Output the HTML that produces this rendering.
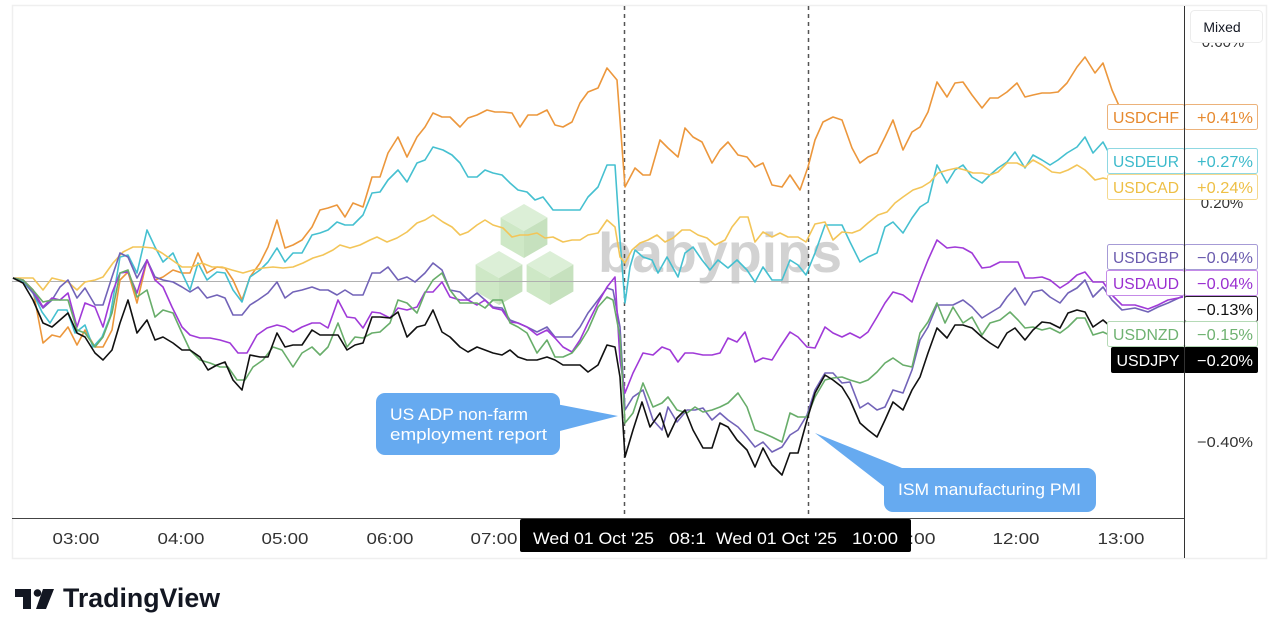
<!DOCTYPE html>
<html><head><meta charset="utf-8"><style>
html,body{margin:0;padding:0;background:#fff;}
svg{display:block;}
text{font-family:"Liberation Sans",sans-serif;}
</style></head><body>
<svg width="1280" height="637" viewBox="0 0 1280 637" xmlns="http://www.w3.org/2000/svg">
<rect x="0" y="0" width="1280" height="637" fill="#fff"/>
<rect x="12.5" y="5.5" width="1254" height="553" fill="#fff" stroke="#efefef" stroke-width="1.5"/>

<!-- watermark -->
<g opacity="0.85">
  <g>
    <polygon points="524,204 547.4,217.5 524,231 500.6,217.5" fill="#d7edd1"/>
    <polygon points="500.6,217.5 524,231 524,258 500.6,244.5" fill="#c6e4bd"/>
    <polygon points="547.4,217.5 524,231 524,258 547.4,244.5" fill="#bddcb3"/>
  </g>
  <g>
    <polygon points="499,251 522.4,264.5 499,278 475.6,264.5" fill="#d7edd1"/>
    <polygon points="475.6,264.5 499,278 499,305 475.6,291.5" fill="#c6e4bd"/>
    <polygon points="522.4,264.5 499,278 499,305 522.4,291.5" fill="#bddcb3"/>
  </g>
  <g>
    <polygon points="550,251 573.4,264.5 550,278 526.6,264.5" fill="#d7edd1"/>
    <polygon points="526.6,264.5 550,278 550,305 526.6,291.5" fill="#c6e4bd"/>
    <polygon points="573.4,264.5 550,278 550,305 573.4,291.5" fill="#bddcb3"/>
  </g>
  <text x="598" y="272" font-size="56" font-weight="bold" fill="#cbcbcb" textLength="244" lengthAdjust="spacingAndGlyphs">babypips</text>
</g>

<!-- zero line -->
<line x1="12" y1="281.5" x2="1184" y2="281.5" stroke="#b0b0b0" stroke-width="1"/>

<!-- event lines -->
<line x1="624.5" y1="6" x2="624.5" y2="518" stroke="#555" stroke-width="1.5" stroke-dasharray="4,4"/>
<line x1="808.5" y1="6" x2="808.5" y2="518" stroke="#555" stroke-width="1.5" stroke-dasharray="4,4"/>

<g fill="none" stroke-width="1.6" stroke-linejoin="round">
<!-- USDCHF -->
<polyline stroke="#ec973c" points="13,278 23,280 33,290 43,343 52,335 60,337 68,327 77,345 85,330 95,347 103,347 112,330 120,280 128,272 137,303 147,260 155,280 163,277 173,270 182,273 190,273 198,253 207,273 217,267 225,268 233,280 242,300 250,277 260,263 268,247 277,220 285,248 293,245 302,240 312,227 320,210 328,208 337,205 345,217 353,203 363,207 372,177 380,177 388,153 398,137 407,157 417,137 425,127 433,113 442,117 450,117 460,127 468,118 477,115 487,110 495,112 503,112 512,113 520,127 528,115 537,115 547,110 555,125 563,127 572,122 580,103 588,92 598,88 607,68 617,80 625,187 635,168 643,175 650,175 660,140 668,148 678,157 685,128 693,137 702,142 712,163 720,150 728,142 738,155 747,157 755,167 763,163 772,185 782,187 790,175 800,190 808,167 815,140 823,122 833,117 842,120 852,148 860,163 868,157 877,153 885,137 893,120 903,150 912,132 920,127 928,112 937,82 947,97 955,83 963,82 972,95 982,108 990,98 998,98 1007,92 1017,83 1025,97 1033,95 1042,93 1050,93 1058,92 1067,83 1077,67 1085,57 1095,73 1103,63 1112,90 1120,108"/>
<!-- USDEUR -->
<polyline stroke="#45c0d0" points="13,278 23,282 33,293 42,312 50,323 58,310 67,310 75,333 85,325 93,347 102,337 110,317 120,257 128,255 137,273 147,230 155,247 163,262 173,253 182,273 190,290 198,263 207,280 217,272 225,273 233,290 242,302 250,277 260,270 268,262 277,248 285,262 293,253 302,253 312,235 320,233 328,230 337,222 345,225 353,225 363,215 372,193 380,192 388,180 398,170 407,182 417,163 425,160 433,147 443,150 452,155 460,163 468,177 477,177 485,170 493,173 502,175 510,183 518,190 527,192 535,200 543,197 553,210 562,210 570,210 580,210 588,197 598,187 607,165 615,165 620,240 625,303 630,267 635,250 643,257 652,260 658,273 667,257 678,277 685,253 693,247 702,260 710,270 718,260 728,268 737,260 747,270 755,282 763,267 772,280 782,280 790,260 798,265 806,275 815,253 825,225 833,225 842,225 850,242 860,262 868,257 877,253 885,227 893,222 903,233 912,218 920,207 928,202 937,165 947,183 955,170 963,165 972,177 982,183 990,175 998,168 1007,162 1015,152 1025,168 1033,155 1042,160 1050,165 1058,160 1067,153 1077,147 1085,137 1093,153 1103,142 1110,155 1120,160"/>
<!-- USDCAD -->
<polyline stroke="#f3c558" points="13,278 25,278 33,278 43,290 52,278 60,280 68,282 77,290 85,282 95,280 103,277 113,263 123,252 133,247 143,247 153,248 162,253 172,260 182,267 192,267 202,263 212,267 222,267 232,270 243,273 253,270 263,268 273,267 283,268 293,267 303,263 313,258 323,255 333,250 340,245 350,248 360,245 370,240 377,237 387,242 397,238 407,232 417,223 425,220 433,215 443,222 452,227 460,235 468,232 477,225 485,220 493,225 503,228 512,237 520,235 528,235 537,233 545,238 553,237 563,242 572,240 580,240 588,235 598,233 607,220 615,227 620,257 625,263 632,250 640,243 648,240 657,235 665,242 673,238 682,230 690,230 698,235 707,238 715,245 725,240 732,227 740,217 748,217 755,242 763,232 772,237 780,233 788,237 798,237 806,242 815,224 825,222 833,240 842,232 852,233 860,230 868,223 878,215 887,212 895,203 903,197 913,190 922,187 930,182 938,173 948,170 957,168 965,170 973,173 982,173 990,175 998,172 1007,163 1017,163 1025,167 1033,160 1042,165 1052,172 1060,173 1068,170 1077,165 1085,170 1095,180 1103,178 1120,182"/>
<!-- USDGBP -->
<polyline stroke="#7263b8" points="13,278 23,280 33,293 43,308 52,300 60,287 68,280 77,298 85,288 95,305 103,305 112,277 120,253 128,257 137,278 147,260 155,277 163,280 173,282 182,287 190,292 198,287 207,298 217,295 225,298 233,315 242,315 250,305 258,300 268,293 277,282 285,298 293,292 302,290 312,287 320,290 328,290 337,295 345,290 353,295 363,295 372,273 380,273 388,267 398,280 407,277 415,282 425,273 433,263 442,270 450,290 460,292 468,300 477,293 485,300 493,307 502,308 510,320 518,323 527,327 537,332 547,327 555,337 563,337 572,337 580,327 588,313 598,300 607,288 613,290 620,327 625,410 633,397 643,390 653,420 662,430 668,407 677,422 687,410 695,410 703,408 712,420 720,413 728,420 738,427 747,437 755,447 763,442 772,452 782,447 790,435 798,430 807,415 815,390 825,373 833,373 842,383 850,382 860,408 868,403 877,410 885,407 893,390 903,393 912,370 920,340 928,327 937,305 945,305 953,305 963,300 972,307 982,318 990,313 1000,307 1007,297 1015,288 1025,305 1033,292 1042,290 1050,297 1060,303 1068,293 1077,288 1085,280 1093,297 1103,287 1112,300 1122,310 1135,308 1148,312 1158,307 1168,303 1183,296"/>
<!-- USDAUD -->
<polyline stroke="#a03ad8" points="13,278 23,280 33,290 43,307 52,298 60,300 68,293 77,327 85,303 95,307 103,327 112,293 120,273 128,272 137,293 147,260 155,280 163,287 172,307 182,327 190,335 200,338 210,338 220,340 230,343 238,353 247,353 257,335 267,328 277,325 285,327 293,332 302,327 312,323 320,323 328,328 338,300 347,317 355,318 363,328 372,312 380,313 390,318 398,308 407,310 417,307 425,292 433,292 442,282 450,297 460,300 468,300 477,305 485,300 493,308 502,310 510,322 518,323 527,327 537,335 547,330 555,338 563,347 572,352 580,340 588,323 598,303 607,287 615,277 620,360 625,393 633,373 643,353 653,355 662,347 670,350 678,362 685,353 693,353 703,355 712,355 720,353 728,338 737,342 745,332 755,362 763,358 772,360 780,347 790,332 798,337 807,347 815,348 825,327 833,333 842,337 850,333 860,338 868,332 877,317 885,303 893,292 903,295 912,302 920,280 928,260 937,240 947,248 955,247 963,248 972,253 982,268 990,267 1000,262 1010,262 1018,262 1025,278 1033,278 1042,277 1050,280 1060,288 1068,283 1077,275 1085,272 1093,282 1103,282 1112,295 1122,305 1135,305 1148,309 1158,305 1168,300 1183,297"/>
<!-- USDNZD -->
<polyline stroke="#68ad6a" points="13,278 23,280 33,290 43,302 52,300 60,300 68,300 77,330 85,333 95,347 103,337 112,313 120,273 128,270 137,297 147,290 155,317 163,310 173,313 182,333 190,350 200,360 210,363 220,367 228,367 237,380 245,380 253,367 263,360 273,347 282,350 293,367 302,353 312,347 320,355 328,347 338,323 347,347 355,337 363,338 372,333 380,332 390,323 398,300 407,303 417,313 425,293 433,280 442,273 450,290 460,303 468,303 477,303 485,308 493,300 502,300 510,323 518,327 527,333 537,353 547,340 555,357 563,357 572,353 580,343 588,330 598,307 607,297 613,300 620,337 625,423 633,413 643,383 653,407 662,403 668,397 677,410 687,413 695,407 703,412 712,410 720,407 728,403 738,393 747,407 755,430 763,433 772,437 782,442 790,413 798,417 807,417 815,397 825,380 833,378 842,377 850,380 860,383 868,380 877,372 885,363 893,358 903,365 912,367 920,333 928,322 937,303 945,323 953,307 963,323 972,317 982,335 990,323 1000,320 1010,312 1018,320 1025,328 1033,327 1042,330 1050,328 1060,333 1068,327 1077,318 1085,318 1093,335 1103,332 1120,340"/>
<!-- USDJPY -->
<polyline stroke="#111" points="13,278 23,283 33,300 43,323 52,327 60,320 68,313 77,333 85,337 95,353 103,360 112,350 120,323 128,300 137,333 147,320 155,340 163,337 173,343 182,350 190,350 200,357 208,370 217,365 225,362 233,380 242,390 250,355 260,357 268,357 277,333 285,347 293,345 302,345 312,330 320,335 328,335 338,335 347,350 355,345 363,343 372,317 380,317 390,318 398,312 407,337 417,327 425,325 433,310 442,332 450,337 460,347 468,352 477,347 485,350 493,353 502,355 510,350 518,357 527,360 537,360 547,357 555,360 563,365 572,365 580,365 588,372 598,365 607,345 615,347 620,377 625,457 633,430 642,402 650,427 660,413 668,437 677,418 685,410 693,430 703,448 712,448 720,423 728,427 737,440 747,450 755,467 763,448 772,465 782,475 790,453 798,453 807,420 815,393 825,375 833,380 842,387 850,400 860,423 868,430 877,437 885,420 893,402 903,410 912,390 920,377 928,353 937,328 947,338 955,325 963,325 972,328 982,337 990,343 998,348 1007,333 1015,328 1025,340 1033,330 1042,322 1050,323 1060,328 1068,313 1077,310 1085,312 1093,327 1103,320 1120,335"/>
</g>

<!-- callout 1 -->
<polygon points="556,404 618,416 556,432" fill="#66aaf0"/>
<rect x="376" y="393" width="184" height="62" rx="9" fill="#66aaf0"/>
<text x="390" y="420" font-size="17" fill="#fff" textLength="138" lengthAdjust="spacingAndGlyphs">US ADP non-farm</text>
<text x="390" y="440" font-size="17" fill="#fff" textLength="157" lengthAdjust="spacingAndGlyphs">employment report</text>

<!-- callout 2 -->
<polygon points="815,433 902,468 886,488" fill="#66aaf0"/>
<rect x="884" y="468" width="212" height="44" rx="9" fill="#66aaf0"/>
<text x="898" y="495" font-size="17" fill="#fff" textLength="183" lengthAdjust="spacingAndGlyphs">ISM manufacturing PMI</text>

<!-- right scale labels -->
<g font-size="15" fill="#333" text-anchor="middle">
  <text x="1223" y="47">0.60%</text>
  <text x="1222" y="208">0.20%</text>
  <text x="1225" y="447" textLength="56" lengthAdjust="spacingAndGlyphs">−0.40%</text>
</g>

<!-- Mixed box -->
<rect x="1190.5" y="10.5" width="72" height="32" rx="4" fill="#fff" stroke="#ececec"/>
<text x="1222" y="32" font-size="14" fill="#131722" text-anchor="middle">Mixed</text>

<!-- series labels -->
<g font-size="16" text-anchor="middle">
  <rect x="1107.5" y="104.5" width="77" height="25" rx="2" fill="#fff" stroke="#ecb27a"/>
  <rect x="1184.5" y="104.5" width="73" height="25" rx="2" fill="#fff" stroke="#ecb27a"/>
  <text x="1146" y="123" fill="#e6892e" textLength="66" lengthAdjust="spacingAndGlyphs">USDCHF</text>
  <text x="1225" y="123" fill="#e6892e" textLength="56" lengthAdjust="spacingAndGlyphs">+0.41%</text>

  <rect x="1107.5" y="148.5" width="77" height="25" rx="2" fill="#fff" stroke="#8fd8e2"/>
  <rect x="1184.5" y="148.5" width="73" height="25" rx="2" fill="#fff" stroke="#8fd8e2"/>
  <text x="1146" y="167" fill="#3cbacb" textLength="66" lengthAdjust="spacingAndGlyphs">USDEUR</text>
  <text x="1225" y="167" fill="#3cbacb" textLength="56" lengthAdjust="spacingAndGlyphs">+0.27%</text>

  <rect x="1107.5" y="174.5" width="77" height="25" rx="2" fill="#fff" stroke="#f5d98f"/>
  <rect x="1184.5" y="174.5" width="73" height="25" rx="2" fill="#fff" stroke="#f5d98f"/>
  <text x="1146" y="193" fill="#eebf45" textLength="66" lengthAdjust="spacingAndGlyphs">USDCAD</text>
  <text x="1225" y="193" fill="#eebf45" textLength="56" lengthAdjust="spacingAndGlyphs">+0.24%</text>

  <rect x="1107.5" y="244.5" width="77" height="25" rx="2" fill="#fff" stroke="#a69bd6"/>
  <rect x="1184.5" y="244.5" width="73" height="25" rx="2" fill="#fff" stroke="#a69bd6"/>
  <text x="1146" y="263" fill="#6a5bae" textLength="66" lengthAdjust="spacingAndGlyphs">USDGBP</text>
  <text x="1225" y="263" fill="#6a5bae" textLength="56" lengthAdjust="spacingAndGlyphs">−0.04%</text>

  <rect x="1106.5" y="270.5" width="78" height="25" rx="2" fill="#fff" stroke="#c58ae8"/>
  <rect x="1184.5" y="270.5" width="73" height="25" rx="2" fill="#fff" stroke="#c58ae8"/>
  <text x="1146" y="289" fill="#9a2fd0" textLength="66" lengthAdjust="spacingAndGlyphs">USDAUD</text>
  <text x="1225" y="289" fill="#9a2fd0" textLength="56" lengthAdjust="spacingAndGlyphs">−0.04%</text>

  <rect x="1184.5" y="296.5" width="73" height="25" rx="2" fill="#fff" stroke="#222"/>
  <text x="1225" y="315" fill="#111" textLength="56" lengthAdjust="spacingAndGlyphs">−0.13%</text>

  <rect x="1107.5" y="321.5" width="77" height="25" rx="2" fill="#fff" stroke="#b5dab6"/>
  <rect x="1184.5" y="321.5" width="73" height="25" rx="2" fill="#fff" stroke="#b5dab6"/>
  <text x="1146" y="340" fill="#6fb271" textLength="66" lengthAdjust="spacingAndGlyphs">USDNZD</text>
  <text x="1225" y="340" fill="#6fb271" textLength="56" lengthAdjust="spacingAndGlyphs">−0.15%</text>

  <rect x="1111" y="347" width="74" height="26" rx="2" fill="#000"/>
  <rect x="1184" y="347" width="74" height="26" rx="2" fill="#000"/>
  <text x="1148" y="366" fill="#fff" textLength="63" lengthAdjust="spacingAndGlyphs">USDJPY</text>
  <text x="1225" y="366" fill="#fff" textLength="56" lengthAdjust="spacingAndGlyphs">−0.20%</text>
</g>

<!-- right axis line -->
<line x1="1184.5" y1="6" x2="1184.5" y2="558" stroke="#333" stroke-width="1"/>

<!-- time axis -->
<line x1="12" y1="518.5" x2="1184" y2="518.5" stroke="#444" stroke-width="1"/>
<g font-size="16" fill="#333" text-anchor="middle">
  <text x="76" y="544" textLength="47" lengthAdjust="spacingAndGlyphs">03:00</text>
  <text x="181" y="544" textLength="47" lengthAdjust="spacingAndGlyphs">04:00</text>
  <text x="285" y="544" textLength="47" lengthAdjust="spacingAndGlyphs">05:00</text>
  <text x="390" y="544" textLength="47" lengthAdjust="spacingAndGlyphs">06:00</text>
  <text x="494" y="544" textLength="47" lengthAdjust="spacingAndGlyphs">07:00</text>
  <text x="912" y="544" textLength="47" lengthAdjust="spacingAndGlyphs">11:00</text>
  <text x="1016" y="544" textLength="47" lengthAdjust="spacingAndGlyphs">12:00</text>
  <text x="1121" y="544" textLength="47" lengthAdjust="spacingAndGlyphs">13:00</text>
</g>
<rect x="520" y="519" width="391" height="33" rx="2" fill="#000"/>
<g font-size="17" fill="#fff">
  <text x="533" y="544" textLength="121" lengthAdjust="spacingAndGlyphs">Wed 01 Oct '25</text>
  <text x="669" y="544" textLength="37" lengthAdjust="spacingAndGlyphs">08:1</text>
  <text x="716" y="544" textLength="121" lengthAdjust="spacingAndGlyphs">Wed 01 Oct '25</text>
  <text x="852" y="544" textLength="46" lengthAdjust="spacingAndGlyphs">10:00</text>
</g>

<!-- TradingView logo -->
<g fill="#131722">
  <polygon points="15,589 31,589 31,609 23,609 23,597 15,597"/>
  <circle cx="37.5" cy="593" r="3.8"/>
  <polygon points="43,589 54,589 46,609 36,609"/>
  <text x="63" y="607" font-size="27" font-weight="bold" textLength="157" lengthAdjust="spacingAndGlyphs">TradingView</text>
</g>
</svg>
</body></html>
